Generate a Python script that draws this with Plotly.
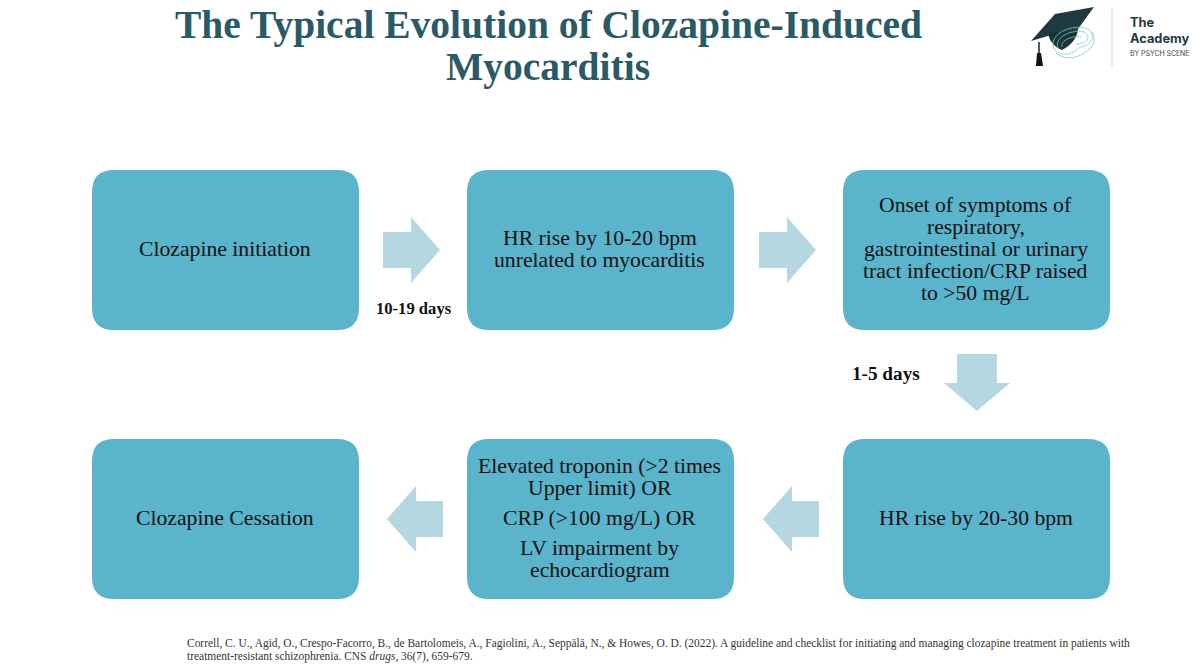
import plotly.graph_objects as go

# 流程图的文字, 每个框是若干段, 每段若干行
title_lines = ["The Typical Evolution of Clozapine-Induced", "Myocarditis"]
top_row = [
    [["Clozapine initiation"]],
    [["HR rise by 10-20 bpm", "unrelated to myocarditis"]],
    [["Onset of symptoms of", "respiratory,", "gastrointestinal or urinary",
      "tract infection/CRP raised", "to >50 mg/L"]],
]
bottom_row = [
    [["Clozapine Cessation"]],
    [["Elevated troponin (>2 times", "Upper limit) OR"], ["CRP (>100 mg/L) OR"],
     ["LV impairment by", "echocardiogram"]],
    [["HR rise by 20-30 bpm"]],
]
interval_labels = ["10-19 days", "1-5 days"]
citation_lines = [
    "Correll, C. U., Agid, O., Crespo-Facorro, B., de Bartolomeis, A., Fagiolini, A., Seppälä, N., & Howes, O. D. (2022). "
    "A guideline and checklist for initiating and managing clozapine treatment in patients with",
    "treatment-resistant schizophrenia. CNS <i>drugs</i>, 36(7), 659-679.",
]

SERIF = "Liberation Serif"
BOX = "#5AB4CC"
ARROW = "#B5D7E2"
DARK = "#2A5A66"

col_x = [92, 467, 843]
row_y = [170, 439]
box_w, box_h, r = 267, 160, 22
line_gap, para_gap = 22, 30


def rounded(x, y, w, h, r):
    return (f"M{x+r},{y} L{x+w-r},{y} Q{x+w},{y} {x+w},{y+r} L{x+w},{y+h-r} Q{x+w},{y+h} {x+w-r},{y+h} "
            f"L{x+r},{y+h} Q{x},{y+h} {x},{y+h-r} L{x},{y+r} Q{x},{y} {x+r},{y} Z")


def arrow_h(x0, x1, ymid, direction):
    # 水平箭头, direction=1 向右, -1 向左
    tip, tail = (x1, x0) if direction > 0 else (x0, x1)
    neck = tip - direction * 29
    return (f"M{tail},{ymid-18} L{neck},{ymid-18} L{neck},{ymid-33} L{tip},{ymid} "
            f"L{neck},{ymid+33} L{neck},{ymid+18} L{tail},{ymid+18} Z")


def arrow_down(xmid, y0, y1):
    neck = y1 - 28
    return (f"M{xmid-20},{y0} L{xmid+20},{y0} L{xmid+20},{neck} L{xmid+33},{neck} L{xmid},{y1} "
            f"L{xmid-33},{neck} L{xmid-20},{neck} Z")


shapes = []
annotations = []


def add_path(path, fill, line=None, width=0):
    shapes.append(dict(type="path", path=path, fillcolor=fill, xref="x", yref="y",
                       line=dict(color=line if line else fill, width=width), layer="below"))


def add_text(x, y, text, size, color="#111111", font=SERIF, anchor="center"):
    annotations.append(dict(x=x, y=y, xref="x", yref="y", text=text, showarrow=False, xanchor=anchor,
                            yanchor="middle", align=anchor, font=dict(family=font, size=size, color=color)))


def add_box_text(x, ymid, paragraphs, size):
    # 行距比 plotly 默认的紧, 所以一行一个 annotation
    offsets = []
    y = 0
    for p in paragraphs:
        for line in p:
            offsets.append((y, line))
            y += line_gap
        y += para_gap - line_gap
    total = y - para_gap
    for off, line in offsets:
        add_text(x, ymid - total / 2 + off, line, size)


for row, boxes in zip(row_y, [top_row, bottom_row]):
    for cx, paragraphs in zip(col_x, boxes):
        add_path(rounded(cx, row, box_w, box_h, r), BOX)
        add_box_text(cx + box_w / 2 - 1, row + box_h / 2 - 1, paragraphs, 21.7)

add_path(arrow_h(383, 440, 250, 1), ARROW)
add_path(arrow_h(759, 816, 250, 1), ARROW)
add_path(arrow_down(977, 354, 411), ARROW)
add_path(arrow_h(763, 819, 519, -1), ARROW)
add_path(arrow_h(387, 443, 519, -1), ARROW)

add_text(413.5, 308, "<b>" + interval_labels[0] + "</b>", 16.6)
add_text(886, 373, "<b>" + interval_labels[1] + "</b>", 19.2)

for y, line in zip([25, 67], title_lines):
    add_text(548, y, "<b>" + line + "</b>", 39.5, color=DARK)
for y, line in zip([643, 656], citation_lines):
    add_text(184.5, y, line, 11.45, color="#333333", anchor="left")

# logo
add_path("M1031,41 L1055,14 L1094,7 L1078,29 L1058,33 Z", "#1E3A40")
add_path("M1048,34 L1078,29 Q1077,42 1062,50 Q1051,46 1048,34 Z", "#16343A")
add_path("M1038.2,42 L1039.8,42 L1039.8,54 L1038.2,54 Z", "#16343A")
add_path("M1037,53 L1041,53 L1043,66 L1036,66 Z", "#111111")
for path in ["M1054,49 C1048,36 1068,24 1086,28 C1098,34 1092,46 1080,47 C1074,54 1062,58 1054,49",
             "M1058,48 C1054,38 1070,29 1084,32 C1092,37 1087,44 1076,44",
             "M1062,47 C1060,41 1072,35 1082,37",
             "M1056,53 C1066,62 1080,58 1092,47 C1095,42 1095,36 1092,32"]:
    shapes.append(dict(type="path", path=path, xref="x", yref="y", line=dict(color="#8CC7B8", width=0.8)))
shapes.append(dict(type="line", x0=1112, x1=1112, y0=7, y1=66, xref="x", yref="y",
                   line=dict(color="#D5D5D5", width=1)))
add_text(1128, 22, "<b>The</b>", 12.8, color="#1E3A40", font="Inter", anchor="left")
add_text(1128, 38, "<b>Academy</b>", 12.8, color="#1E3A40", font="Inter", anchor="left")
add_text(1127.5, 53, "BY PSYCH SCENE", 6.9, color="#444444", font="Inter", anchor="left")

fig = go.Figure()
fig.update_layout(
    width=1200, height=670,
    margin=dict(l=0, r=0, t=0, b=0),
    paper_bgcolor="white", plot_bgcolor="white",
    xaxis=dict(range=[0, 1200], visible=False, fixedrange=True),
    yaxis=dict(range=[670, 0], visible=False, fixedrange=True),
    shapes=shapes, annotations=annotations, showlegend=False,
)
fig.write_html("out.html", config=dict(displayModeBar=False),
               post_script="document.body.style.margin='0';document.body.style.overflow='hidden';")
